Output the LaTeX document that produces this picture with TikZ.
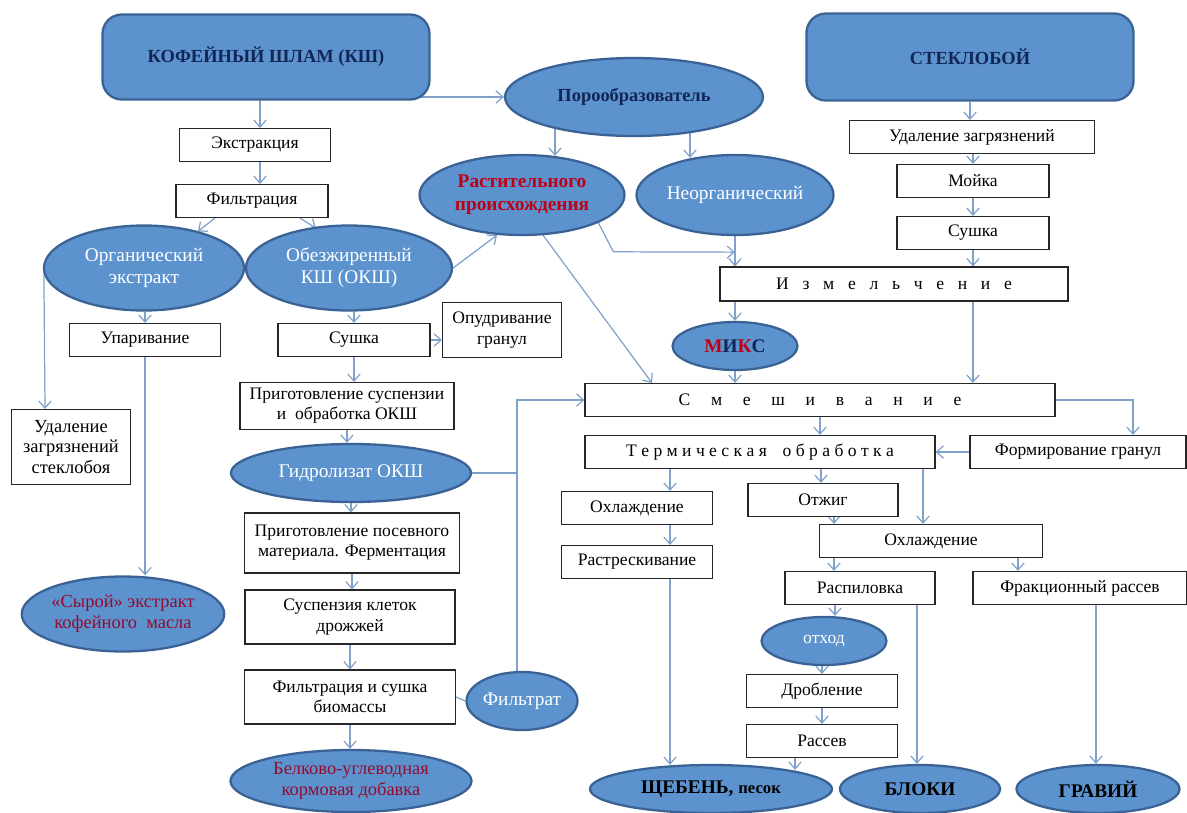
\documentclass[tikz,border=0pt]{standalone}
\usepackage{fontspec}
\setmainfont{Liberation Serif}
\usetikzlibrary{arrows.meta,calc,shapes.geometric,backgrounds}
\definecolor{ovalfill}{RGB}{92,147,206}
\definecolor{ovalline}{RGB}{58,98,148}
\definecolor{linkblue}{RGB}{128,162,202}
\definecolor{navy}{RGB}{18,38,86}
\definecolor{redtxt}{RGB}{190,0,20}
\definecolor{darkred}{RGB}{150,10,45}
\tikzset{
  sz/.style 2 args={minimum width=#1*0.02cm, minimum height=#2*0.02cm},
  box/.style={draw=black!85, line width=0.6pt, fill=white, inner sep=0pt, align=center, font=\fontsize{10}{11.5}\selectfont},
  head/.style={draw=ovalline, line width=1.3pt, fill=ovalfill, rounded corners=11pt, inner sep=0pt, text=navy, font=\fontsize{10.5}{12}\selectfont\bfseries},
  oval/.style={ellipse, draw=ovalline, line width=1.3pt, fill=ovalfill, inner sep=0pt, align=center, text=white, font=\fontsize{11}{12.5}\selectfont},
  result/.style={oval, text=black, font=\fontsize{11}{13}\selectfont\bfseries},
  link/.style={draw=linkblue, line width=0.7pt, -{Straight Barb[length=4pt,width=7pt]}},
  plain/.style={draw=linkblue, line width=0.7pt},
}
\newcommand{\razr}[2]{{\spaceskip=#1\relax #2}}

\begin{document}
\begin{tikzpicture}[x=0.02cm, y=-0.02cm]
      \useasboundingbox (0,0) rectangle (1187,812);

      \node[head, sz={327}{85}] (ksh) at (266,57) {КОФЕЙНЫЙ ШЛАМ (КШ)};
      \node[head, sz={327}{87}] (steklo) at (970,57) {СТЕКЛОБОЙ};

      \node[oval, sz={258}{78}, text=navy, font=\fontsize{10.5}{12}\selectfont\bfseries] (poro) at (634,97) {Порообразователь};
      \node[oval, sz={205}{80}, text=redtxt, font=\fontsize{11}{13}\selectfont\bfseries] (rast) at (522,195) {Растительного\\происхождения};
      \node[oval, sz={197}{80}] (neorg) at (735,195) {Неорганический};

      % coffee branch
      \node[box, sz={151}{33}] (ekstr) at (255,145) {Экстракция};
      \node[box, sz={152}{33}] (filtr) at (252,201) {Фильтрация};
      \node[oval, sz={200}{85}] (org) at (144,268) {Органический\\экстракт};
      \node[oval, sz={206}{85}] (obez) at (349,268) {Обезжиренный\\КШ (ОКШ)};
      \node[box, sz={151}{33}] (upar) at (145,340) {Упаривание};
      \node[box, sz={119}{75}, font=\fontsize{10.5}{11.5}\selectfont] (udst) at (71,447) {Удаление\\загрязнений\\стеклобоя};
      \node[oval, sz={202}{75}, text=darkred, font=\fontsize{10.5}{12}\selectfont] (syr) at (123,614) {«Сырой» экстракт\\кофейного\ \ масла};
      \node[box, sz={152}{33}] (sush1) at (354,340) {Сушка};
      \node[box, sz={119}{55}] (opudr) at (502,330) {Опудривание\\гранул};
      \node[box, sz={214}{47}] (prig1) at (347,406) {Приготовление суспензии\\и\ \ обработка ОКШ};
      \node[oval, sz={240}{58}] (gidr) at (351,473) {Гидролизат ОКШ};
      \node[box, sz={215}{60}] (prig2) at (352,543) {Приготовление посевного\\материала. Ферментация};
      \node[box, sz={210}{54}] (susp) at (350,617) {Суспензия клеток\\дрожжей};
      \node[box, sz={211}{54}] (filsush) at (350,697) {Фильтрация и сушка\\биомассы};
      \node[oval, sz={111}{58}] (filtrat) at (522,701) {Фильтрат};
      \node[oval, sz={241}{62}, text=darkred, font=\fontsize{10.5}{12}\selectfont] (belk) at (351,781) {Белково-углеводная\\кормовая добавка};

      % glass branch
      \node[box, sz={245}{33}] (udz) at (972,137) {Удаление загрязнений};
      \node[box, sz={152}{33}] (moika) at (973,181) {Мойка};
      \node[box, sz={152}{33}] (sush2) at (973,233) {Сушка};
      \node[box, sz={348}{34}] (izm) at (894,284) {\razr{7.8pt}{И з м е л ь ч е н и е}};
      \node[oval, sz={125}{48}, font=\fontsize{11}{12.5}\selectfont\bfseries] (miks) at (735,346) {\textcolor{redtxt}{М}\textcolor{navy}{И}\textcolor{redtxt}{К}\textcolor{navy}{С}};
      \node[box, sz={470}{33}] (smesh) at (820,400) {\razr{11.8pt}{С м е ш и в а н и е}};
      \node[box, sz={350}{33}] (term) at (760,452) {\razr{2.5pt}{Т е р м и ч е с к а я}\hspace{9pt}\razr{2.5pt}{о б р а б о т к а}};
      \node[box, sz={216}{33}] (form) at (1078,452) {Формирование гранул};
      \node[box, sz={151}{33}] (ohl1) at (637,508) {Охлаждение};
      \node[box, sz={151}{33}] (rastr) at (637,562) {Растрескивание};
      \node[box, sz={150}{33}] (otzhig) at (823,500) {Отжиг};
      \node[box, sz={223}{33}] (ohl2) at (931,541) {Охлаждение};
      \node[box, sz={150}{33}] (raspil) at (860,588) {Распиловка};
      \node[box, sz={214}{33}] (frak) at (1080,588) {Фракционный рассев};
      \node[oval, sz={125}{48}, font=\fontsize{10}{12}\selectfont] (othod) at (824,641) {отход};
      \node[box, sz={151}{33}] (drob) at (822,691) {Дробление};
      \node[box, sz={151}{33}] (rassev) at (822,741) {Рассев};
      \node[result, sz={242}{48}] (scheb) at (711,789) {ЩЕБЕНЬ, {\fontsize{9.5}{12}\selectfont песок}};
      \node[result, sz={160}{48}] (bloki) at (920,789) {БЛОКИ};
      \node[result, sz={163}{48}] (gravii) at (1098,789) {ГРАВИЙ};

      \begin{pgfonlayer}{background}
      \draw[link] ($(ksh.center)+(-6,0)$) -- ($(ekstr.north)+(5,0)$);
      \draw[link] ($(ksh.center)+(0,40)$) -- (poro.west);
      \draw[link] ($(ekstr.center)+(5,0)$) -- ($(filtr.north)+(8,0)$);
      \draw[link] ($(filtr.south)+(-37,0)$) -- ($(org.north)+(54,7)$);
      \draw[link] ($(filtr.south)+(48,0)$) -- ($(obez.north)+(-33,4)$);
      \draw[link] ($(poro.center)+(-79,0)$) -- ($(rast.north)+(33,2)$);
      \draw[link] ($(poro.center)+(56,0)$) -- ($(neorg.north)+(-45,4)$);
      \draw[link] (obez.east) -- ($(rast.south)+(-25,-1)$);
      \draw[link] (rast.-20) -- ++(15,29) -- ($(neorg.south)+(0,16)$);
      \draw[link] ($(rast.south)+(21,-1)$) -- ($(smesh.north)+(-168,0)$);
      \draw[link] (neorg.south) -- (neorg.south |- izm.north);

      \draw[link] (steklo.south) -- (steklo.south |- udz.north);
      \draw[link] (moika.north |- udz.south) -- (moika.north);
      \draw[link] (moika.south) -- (sush2.north);
      \draw[link] (sush2.south) -- (sush2.south |- izm.north);
      \draw[link] (miks.north |- izm.south) -- (miks.north);
      \draw[link] ($(izm.south)+(79,0)$) -- ($(smesh.north)+(153,0)$);
      \draw[link] (miks.south) -- (miks.south |- smesh.north);
      \draw[link] (smesh.east) -| ($(form.north)+(55,0)$);
      \draw[link] (form.west) -- (term.east);
      \draw[link] (smesh.south) -- ($(term.north)+(60,0)$);

      \draw[link] ($(term.south)+(-90,0)$) -- ($(ohl1.north)+(33,0)$);
      \draw[link] ($(term.south)+(61,0)$) -- ($(otzhig.north)+(-2,0)$);
      \draw[link] ($(term.south)+(163,0)$) -- ($(ohl2.north)+(-8,0)$);
      \draw[link] ($(ohl1.south)+(33,0)$) -- ($(rastr.north)+(33,0)$);
      \draw[link] ($(rastr.south)+(33,0)$) -- ($(scheb.north)+(-41,1)$);
      \draw[link] ($(otzhig.south)+(11,0)$) -- ($(ohl2.north)+(-97,0)$);
      \draw[link] ($(ohl2.south)+(-97,0)$) -- ($(raspil.north)+(-26,0)$);
      \draw[link] ($(ohl2.south)+(87,0)$) -- ($(frak.north)+(-62,0)$);
      \draw[link] ($(raspil.south)+(-25,0)$) -- ($(othod.north)+(11,0)$);
      \draw[link] ($(raspil.south)+(57,0)$) -- ($(bloki.north)+(-3,0)$);
      \draw[link] ($(frak.south)+(16,0)$) -- ($(gravii.north)+(-2,0)$);
      \draw[link] (drob.north |- othod.south) -- (drob.north);
      \draw[link] (drob.south) -- (rassev.north);
      \draw[link] ($(rassev.south)+(-27,0)$) -- ($(scheb.north)+(84,6)$);

      \draw[link] ($(org.west)+(1,0)$) -- ($(udst.north)+(-26,0)$);
      \draw[link] (upar.north |- org.south) -- (upar.north);
      \draw[link] (upar.south) -- (upar.south |- syr.north);
      \draw[link] (sush1.north |- obez.south) -- (sush1.north);
      \draw[link] (sush1.east) -- (sush1.east -| opudr.west);
      \draw[link] (sush1.south) -- (sush1.south |- prig1.north);
      \draw[link] (prig1.south) -- (prig1.south |- gidr.north);
      \draw[link] (gidr.south) -- (gidr.south |- prig2.north);
      \draw[link] (prig2.south) -- (prig2.south |- susp.north);
      \draw[link] (susp.south) -- (susp.south |- filsush.north);
      \draw[link] (filsush.south) -- (filsush.south |- belk.north);
      \draw[plain] (filsush.east) -- (filtrat.west);
      \draw[plain] (gidr.east) -- ++(46,0);
      \draw[link] ($(filtrat.north)+(-5,0)$) |- (smesh.west);
      \end{pgfonlayer}
    \end{tikzpicture}
\end{document}
